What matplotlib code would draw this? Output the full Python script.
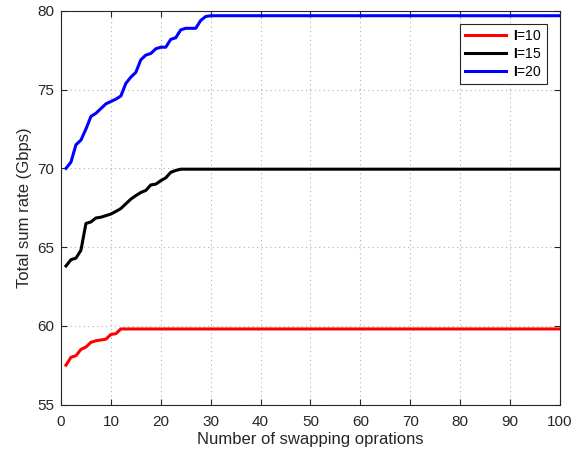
import matplotlib
matplotlib.use("Agg")
import matplotlib.pyplot as plt
import numpy as np

plt.rcParams['font.family'] = ['Liberation Sans', 'DejaVu Sans']
plt.rcParams['mathtext.fontset'] = 'custom'
plt.rcParams['mathtext.rm'] = 'Liberation Sans'
plt.rcParams['mathtext.bf'] = 'Liberation Sans:bold'

# swapping operation index
ops = np.arange(1, 101)

# I=10 (red) - rises to plateau at step 12
i10_head = [57.5, 58.0, 58.1, 58.5, 58.65, 58.95, 59.05, 59.1, 59.15, 59.45, 59.5, 59.8]
i10_plateau = 59.8

# I=15 (black) - plateau from step 24
i15_head = [63.8, 64.2, 64.3, 64.8, 66.5, 66.6, 66.85, 66.9, 67.0, 67.1, 67.27, 67.45,
            67.75, 68.05, 68.27, 68.47, 68.6, 68.95, 69.0, 69.22, 69.4, 69.75, 69.87, 69.95]
i15_plateau = 69.95

# I=20 (blue) - plateau from step 30
i20_head = [70.0, 70.4, 71.5, 71.8, 72.5, 73.3, 73.5, 73.8, 74.1, 74.25, 74.4, 74.6,
            75.4, 75.8, 76.1, 76.9, 77.2, 77.3, 77.6, 77.7, 77.7, 78.2, 78.3, 78.8,
            78.9, 78.9, 78.9, 79.4, 79.65, 79.7]
i20_plateau = 79.7

labels = [r'$\mathbf{I}$=10', r'$\mathbf{I}$=15', r'$\mathbf{I}$=20']
colors = ['#ff0000', '#000000', '#0000ff']


def full_series(head, plateau):
    vals = list(head) + [plateau] * (len(ops) - len(head))
    return np.array(vals)


series = [full_series(i10_head, i10_plateau),
          full_series(i15_head, i15_plateau),
          full_series(i20_head, i20_plateau)]

fig = plt.figure(figsize=(5.83, 4.58), dpi=100)
ax = fig.add_axes([0.1046, 0.1168, 0.8559, 0.8592])

for y, lab, c in zip(series, labels, colors):
    ax.plot(ops, y, color=c, linewidth=2.2, label=lab)

ax.set_xlim(0, 100)
ax.set_ylim(55, 80)
ax.set_xticks(np.arange(0, 101, 10))
ax.set_yticks(np.arange(55, 81, 5))
ax.grid(True, linestyle=(0, (1, 3)), color='#b0b0b0', linewidth=0.8)
ax.tick_params(direction='in', top=True, right=True, labelsize=11, length=4,
               width=0.8, colors='#262626')
ax.tick_params(axis='x', pad=7.8)
ax.tick_params(axis='y', pad=4.8)
for sp in ax.spines.values():
    sp.set_color('#262626')
    sp.set_linewidth(0.8)

ax.set_xlabel('Number of swapping oprations', fontsize=12, color='#262626', labelpad=2)
ax.set_ylabel('Total sum rate (Gbps)', fontsize=12, color='#262626', labelpad=3.5)

leg = ax.legend(loc='upper right', fontsize=10, fancybox=False, framealpha=1,
                edgecolor='#262626', handlelength=3.0, borderaxespad=0.93,
                labelspacing=0.3, handletextpad=0.5, borderpad=0.35)
leg.get_frame().set_linewidth(0.8)

fig.savefig('out.png', dpi=100)
